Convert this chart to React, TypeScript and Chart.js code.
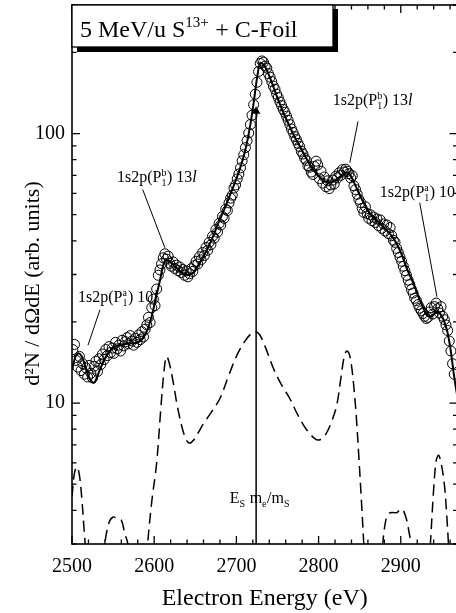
import React, { useEffect, useRef } from "react";
import { Chart, registerables } from "chart.js";

Chart.register(...registerables);

const SERIF = '"Liberation Serif", "Times New Roman", serif';

// ---- axes ----
const xRange = [2500, 2969];
const yRange = [3, 300];
const xLabeledTicks = [2500, 2600, 2700, 2800, 2900];
const xMinorStep = 20;
const yLabeledTicks = [10, 100];
const yMinorTicks = [3, 4, 5, 6, 7, 8, 9, 10, 20, 30, 40, 50, 60, 70, 80, 90, 100, 200, 300];
const yTitle = "d²N / dΩdE (arb. units)";
const xTitle = "Electron Energy (eV)";

// ---- measured spectrum (open circles) ----
const dataEnergy = [
  2501, 2503, 2505, 2507, 2509, 2511, 2513, 2515, 2517, 2519,
  2521, 2523, 2525, 2527, 2529, 2531, 2533, 2535, 2537, 2539,
  2541, 2543, 2545, 2547, 2549, 2551, 2553, 2555, 2557, 2559,
  2561, 2563, 2565, 2567, 2569, 2571, 2573, 2575, 2577, 2579,
  2581, 2583, 2585, 2587, 2589, 2591, 2593, 2595, 2597, 2599,
  2601, 2603, 2605, 2607, 2609, 2611, 2613, 2615, 2617, 2619,
  2621, 2623, 2625, 2627, 2629, 2631, 2633, 2635, 2637, 2639,
  2641, 2643, 2645, 2647, 2649, 2651, 2653, 2655, 2657, 2659,
  2661, 2663, 2665, 2667, 2669, 2671, 2673, 2675, 2677, 2679,
  2681, 2683, 2685, 2687, 2689, 2691, 2693, 2695, 2697, 2699,
  2701, 2703, 2705, 2707, 2709, 2711, 2713, 2715, 2717, 2719,
  2721, 2723, 2725, 2727, 2729, 2731, 2733, 2735, 2737, 2739,
  2741, 2743, 2745, 2747, 2749, 2751, 2753, 2755, 2757, 2759,
  2761, 2763, 2765, 2767, 2769, 2771, 2773, 2775, 2777, 2779,
  2781, 2783, 2785, 2787, 2789, 2791, 2793, 2795, 2797, 2799,
  2801, 2803, 2805, 2807, 2809, 2811, 2813, 2815, 2817, 2819,
  2821, 2823, 2825, 2827, 2829, 2831, 2833, 2835, 2837, 2839,
  2841, 2843, 2845, 2847, 2849, 2851, 2853, 2855, 2857, 2859,
  2861, 2863, 2865, 2867, 2869, 2871, 2873, 2875, 2877, 2879,
  2881, 2883, 2885, 2887, 2889, 2891, 2893, 2895, 2897, 2899,
  2901, 2903, 2905, 2907, 2909, 2911, 2913, 2915, 2917, 2919,
  2921, 2923, 2925, 2927, 2929, 2931, 2933, 2935, 2937, 2939,
  2941, 2943, 2945, 2947, 2949, 2951, 2953, 2955, 2957, 2959,
  2961, 2963, 2965,
];
const dataCounts = [
  15.8, 16.5, 14.4, 13.6, 14.9, 13.2, 14.0, 12.8, 13.5, 12.5,
  13.8, 12.9, 12.4, 13.7, 14.3, 13.1, 14.6, 13.9, 15.2, 14.5,
  15.8, 15.0, 16.2, 15.4, 16.0, 15.3, 16.8, 15.9, 16.4, 15.6,
  17.1, 16.3, 16.9, 17.5, 16.6, 17.8, 17.0, 16.4, 17.4, 16.8,
  17.9, 17.2, 18.4, 17.6, 18.8, 19.5, 20.8, 19.9, 22.6, 24.3,
  23.0, 26.5, 29.8, 31.2, 32.9, 34.6, 35.8, 34.2, 35.1, 33.0,
  32.2, 33.4, 31.6, 32.5, 31.0, 32.0, 30.5, 31.3, 29.8, 30.9,
  29.4, 30.2, 31.5, 30.8, 32.4, 33.6, 32.8, 34.9, 34.0, 36.2,
  35.3, 37.8, 36.9, 39.5, 38.7, 41.6, 40.9, 44.0, 43.1, 46.4,
  45.8, 49.2, 48.5, 52.4, 51.8, 55.3, 57.6, 59.1, 62.8, 64.5,
  67.9, 70.8, 74.6, 79.2, 83.5, 88.7, 94.1, 100.5, 108, 117,
  128, 140, 155, 170, 182, 186, 184, 178, 175, 167,
  162, 156, 150, 146, 140, 136, 131, 127, 123, 120,
  116, 112, 108, 104, 101, 97.5, 95, 92, 89.5, 86,
  84, 81, 79.5, 76, 75, 72, 70.5, 75.5, 79, 76.5,
  68, 72.5, 65.5, 69, 63.5, 66.8, 62.5, 64.5, 67.2, 65,
  69.5, 68.5, 71.5, 70, 73.5, 72, 73.8, 72.5, 71, 68.5,
  69.8, 64, 62, 59.5, 57, 55.5, 52.8, 51, 53.5, 50.5,
  48.5, 50, 47.5, 49, 46.8, 48.2, 45.5, 47.8, 44.5, 46.2,
  43.5, 45.8, 42.5, 44.8, 41.8, 40.2, 39.5, 37.5, 36.2, 34.8,
  33.6, 32.2, 31.0, 29.8, 28.6, 27.5, 26.4, 25.6, 24.5, 24.0,
  23.2, 22.5, 22.0, 21.5, 21.0, 20.6, 20.8, 21.8, 22.6, 21.4,
  22.8, 23.5, 22.4, 21.6, 22.8, 21.0, 20.4, 19.5, 18.6, 17.0,
  15.6, 14.0, 12.8,
];

// ---- fit (solid line) ----
const fitEnergy = [
  2500, 2504, 2508, 2512, 2516, 2520, 2524, 2527, 2530, 2534,
  2540, 2546, 2552, 2560, 2568, 2576, 2582, 2587, 2592, 2597,
  2602, 2607, 2611, 2614, 2618, 2623, 2630, 2636, 2642, 2648,
  2655, 2662, 2670, 2678, 2686, 2694, 2700, 2706, 2712, 2717,
  2721, 2725, 2729, 2733, 2737, 2742, 2749, 2757, 2765, 2771,
  2777, 2785, 2793, 2800, 2808, 2815, 2822, 2828, 2834, 2838,
  2842, 2846, 2852, 2859, 2866, 2874, 2882, 2890, 2896, 2902,
  2908, 2915, 2921, 2927, 2932, 2936, 2941, 2945, 2949, 2953,
  2957, 2961, 2965, 2969,
];
const fitCounts = [
  13.3, 14.8, 15.3, 14.9, 13.8, 12.6, 12.0, 11.9, 12.4, 13.3,
  14.6, 15.6, 16.2, 16.5, 16.6, 16.7, 16.9, 17.5, 18.8, 21.0,
  24.5, 28.5, 32.5, 34.0, 33.6, 32.6, 31.2, 30.2, 29.9, 30.6,
  33.0, 36.0, 40.5, 46.5, 53, 61, 68, 77, 90, 108,
  130, 160, 183, 180, 172, 158, 138, 120, 106, 97,
  90, 81, 74, 69.5, 66.5, 66, 67.5, 70, 71.8, 70.5,
  67, 63, 57.5, 52.5, 49, 46.5, 44, 41.3, 38.5, 35,
  31.2, 28, 25, 22.7, 21.2, 20.9, 21.5, 21.8, 21.2, 20,
  18.2, 15.5, 12.5, 10.5,
];

// ---- difference curve (dashed), null = gap below the axis ----
const diffEnergy = [
  2500, 2503, 2506, 2509, 2512, 2515, 2518, 2520, 2528,
  2536, 2540, 2545, 2550, 2555, 2560, 2564, 2568, 2571, 2580,
  2588, 2592, 2597, 2603, 2608, 2612, 2615, 2618, 2623, 2628,
  2634, 2639, 2643, 2648, 2654, 2660, 2670, 2680, 2690, 2700,
  2710, 2718, 2723, 2728, 2735, 2744, 2751, 2757, 2765, 2775,
  2785, 2795, 2801, 2808, 2815, 2822, 2827, 2831, 2834, 2837,
  2840, 2843, 2846, 2849, 2852, 2855, 2857, 2866,
  2875, 2878, 2882, 2886, 2890, 2895, 2900, 2903, 2907, 2911,
  2913, 2915, 2924,
  2933, 2936, 2940, 2943, 2946, 2949, 2953, 2956, 2958, 2960,
];
const diffCounts = [
  4.5, 5.5, 5.8, 5.4, 4.4, 3.3, 2.5, 2.0, null,
  2.0, 3.0, 3.6, 3.78, 3.72, 3.68, 3.3, 3.0, 2.4, null,
  2.0, 3.0, 4.3, 6.0, 9.5, 13.2, 14.9, 14.2, 12.0, 9.8,
  8.1, 7.3, 7.1, 7.3, 7.8, 8.4, 9.3, 10.4, 12.5, 14.9,
  16.9, 18.1, 18.4, 18.0, 16.2, 13.7, 12.3, 11.4, 10.4, 9.0,
  8.0, 7.4, 7.3, 7.6, 8.4, 9.8, 12.3, 14.8, 15.6, 15.3,
  13.8, 11.4, 8.8, 6.3, 4.4, 3.0, 2.4, null,
  2.2, 3.0, 3.7, 3.9, 3.93, 3.92, 4.05, 4.0, 3.7, 3.2,
  3.0, 2.4, null,
  2.2, 3.0, 4.8, 6.1, 6.4, 6.0, 5.0, 3.8, 3.0, 2.3,
];

// ---- E_S m_e / m_S marker ----
const markerEnergy = 2724;
const markerSpan = [3, 121];

// ---- annotations (anchored in data coordinates) ----
type Part = { t?: string; sub?: string; sup?: string; it?: boolean };
const lblP1a10l: Part[] = [{ t: "1s2p(P" }, { sub: "1", sup: "a" }, { t: ") 10" }, { t: "l", it: true }];
const lblP1b13l: Part[] = [{ t: "1s2p(P" }, { sub: "1", sup: "b" }, { t: ") 13" }, { t: "l", it: true }];
const lblMarker: Part[] = [{ t: "E" }, { sub: "S" }, { t: " m" }, { sub: "e" }, { t: "/m" }, { sub: "S" }];
const titleParts: Part[] = [{ t: "5 MeV/u S" }, { sup: "13+" }, { t: " + C-Foil" }];

const annotations = [
  { parts: lblP1a10l, at: [2507.3, 24.8], line: [[2534, 22.2], [2519.5, 16.4]] },
  { parts: lblP1b13l, at: [2554.7, 69.2], line: [[2586, 62], [2613, 37.7]] },
  { parts: lblP1b13l, at: [2817.3, 133.6], line: [[2848, 110.9], [2838, 78]] },
  { parts: lblP1a10l, at: [2874.5, 60.8], line: [[2923, 55.4], [2944, 24.8]] },
  { parts: lblMarker, at: [2692, 4.47], line: null as null | number[][] },
];

function drawRich(ctx: CanvasRenderingContext2D, x: number, baseline: number, parts: Part[], size: number) {
  let cx = x;
  const small = Math.round(size * 0.62);
  for (const p of parts) {
    if (p.t !== undefined) {
      ctx.font = `${p.it ? "italic " : ""}${size}px ${SERIF}`;
      ctx.fillText(p.t, cx, baseline);
      cx += ctx.measureText(p.t).width;
    } else {
      ctx.font = `${small}px ${SERIF}`;
      let w = 0;
      if (p.sub) {
        ctx.fillText(p.sub, cx, baseline + size * 0.25);
        w = Math.max(w, ctx.measureText(p.sub).width);
      }
      if (p.sup) {
        ctx.fillText(p.sup, cx, baseline - size * 0.4);
        w = Math.max(w, ctx.measureText(p.sup).width);
      }
      cx += w + 0.5;
    }
  }
}

const decorPlugin = {
  id: "decor",
  afterDraw(chart: any) {
    const { ctx, chartArea, scales } = chart;
    const { left, right, top, bottom } = chartArea;
    const xs = scales.x;
    const ys = scales.y;
    ctx.save();
    ctx.strokeStyle = "#000";
    ctx.fillStyle = "#000";

    // frame
    ctx.lineWidth = 1.6;
    ctx.strokeRect(left, top, right - left, bottom - top);

    // inward ticks
    ctx.lineWidth = 1.3;
    ctx.beginPath();
    for (const t of xs.ticks) {
      const px = xs.getPixelForValue(t.value);
      if (px < left - 0.5 || px > right + 0.5) continue;
      const len = xLabeledTicks.includes(t.value) ? 8 : 4.5;
      ctx.moveTo(px, bottom);
      ctx.lineTo(px, bottom - len);
      ctx.moveTo(px, top);
      ctx.lineTo(px, top + len);
    }
    for (const t of ys.ticks) {
      const py = ys.getPixelForValue(t.value);
      if (py < top - 0.5 || py > bottom + 0.5) continue;
      const len = yLabeledTicks.includes(t.value) ? 8 : 4.5;
      ctx.moveTo(left, py);
      ctx.lineTo(left + len, py);
      ctx.moveTo(right, py);
      ctx.lineTo(right - len, py);
    }
    ctx.stroke();

    // y axis title (rotated)
    ctx.save();
    ctx.translate(left - 39, (top + bottom) / 2 + 9);
    ctx.rotate(-Math.PI / 2);
    ctx.textAlign = "center";
    ctx.textBaseline = "middle";
    ctx.font = `22px ${SERIF}`;
    ctx.fillText(yTitle, 0, 0);
    ctx.restore();

    // annotations
    ctx.textBaseline = "alphabetic";
    ctx.textAlign = "left";
    for (const a of annotations) {
      const ax = xs.getPixelForValue(a.at[0]);
      const ay = ys.getPixelForValue(a.at[1]);
      drawRich(ctx, ax, ay + 5.5, a.parts, 16);
      if (a.line) {
        ctx.lineWidth = 1;
        ctx.beginPath();
        ctx.moveTo(xs.getPixelForValue(a.line[0][0]), ys.getPixelForValue(a.line[0][1]));
        ctx.lineTo(xs.getPixelForValue(a.line[1][0]), ys.getPixelForValue(a.line[1][1]));
        ctx.stroke();
      }
    }

    // title box with shadow
    const bw = 261;
    const bh = 42;
    ctx.fillStyle = "#000";
    ctx.fillRect(left + 5, top + 4, bw, bh + 1);
    ctx.fillStyle = "#fff";
    ctx.fillRect(left, top, bw, bh);
    ctx.lineWidth = 1.3;
    ctx.strokeRect(left, top, bw, bh);
    ctx.fillStyle = "#000";
    drawRich(ctx, left + 8, top + 32, titleParts, 24);
    ctx.restore();
  },
};

function zeroPadding(s: any) {
  s.paddingTop = 0;
  s.paddingBottom = 0;
  s.paddingLeft = 0;
  s.paddingRight = 0;
}

export default function App() {
  const canvasRef = useRef<HTMLCanvasElement | null>(null);

  useEffect(() => {
    const canvas = canvasRef.current;
    if (!canvas) return;

    const points = dataEnergy.map((e, i) => ({ x: e, y: dataCounts[i] }));
    const fit = fitEnergy.map((e, i) => ({ x: e, y: fitCounts[i] }));
    const diff = diffEnergy.map((e, i) => ({ x: e, y: diffCounts[i] }));
    const marker = markerSpan.map((v) => ({ x: markerEnergy, y: v }));

    const chart = new Chart(canvas, {
      type: "scatter",
      data: {
        datasets: [
          {
            type: "line",
            data: diff as any,
            borderColor: "#000",
            borderWidth: 1.5,
            borderDash: [11, 6],
            pointRadius: 0,
            tension: 0.35,
            spanGaps: false,
            clip: 0,
            order: 3,
          },
          {
            type: "line",
            data: marker as any,
            borderColor: "#000",
            borderWidth: 1.5,
            pointRadius: [0, 3.5],
            pointStyle: "triangle",
            pointBackgroundColor: "#000",
            pointBorderColor: "#000",
            clip: 0,
            order: 2,
          },
          {
            type: "scatter",
            data: points as any,
            showLine: false,
            pointStyle: "circle",
            pointRadius: 5,
            pointBorderWidth: 1,
            pointBorderColor: "#000",
            pointBackgroundColor: "rgba(0,0,0,0)",
            order: 1,
          },
          {
            type: "line",
            data: fit as any,
            borderColor: "#000",
            borderWidth: 2,
            pointRadius: 0,
            cubicInterpolationMode: "monotone",
            clip: 0,
            order: 0,
          },
        ],
      },
      options: {
        responsive: false,
        animation: false,
        devicePixelRatio: 1,
        layout: { autoPadding: false, padding: { top: 5, right: 2.5, left: 0, bottom: 0 } },
        plugins: {
          legend: { display: false },
          tooltip: { enabled: false },
        },
        scales: {
          x: {
            type: "linear",
            min: xRange[0],
            max: xRange[1],
            grid: { display: false, drawTicks: false },
            border: { display: false },
            afterBuildTicks: (s: any) => {
              const t: any[] = [];
              for (let v = xRange[0]; v <= xRange[1]; v += xMinorStep) t.push({ value: v });
              s.ticks = t;
            },
            afterFit: (s: any) => {
              s.height = 69;
              zeroPadding(s);
            },
            ticks: {
              autoSkip: false,
              maxRotation: 0,
              padding: 11,
              color: "#000",
              font: { family: SERIF, size: 20 },
              callback: (v: any) => (xLabeledTicks.includes(Number(v)) ? String(v) : ""),
            },
            title: {
              display: true,
              text: xTitle,
              color: "#000",
              font: { family: SERIF, size: 24 },
              padding: { top: 0, bottom: 0 },
            },
          },
          y: {
            type: "logarithmic",
            min: yRange[0],
            max: yRange[1],
            grid: { display: false, drawTicks: false },
            border: { display: false },
            afterBuildTicks: (s: any) => {
              s.ticks = yMinorTicks.map((v) => ({ value: v }));
            },
            afterFit: (s: any) => {
              s.width = 72;
              zeroPadding(s);
            },
            ticks: {
              autoSkip: false,
              padding: 7,
              color: "#000",
              font: { family: SERIF, size: 20 },
              callback: (v: any) => (yLabeledTicks.includes(Number(v)) ? String(v) : ""),
            },
            title: { display: false },
          },
        },
      },
      plugins: [decorPlugin],
    } as any);

    return () => chart.destroy();
  }, []);

  return (
    <div
      style={{
        position: "fixed",
        left: 0,
        top: 0,
        width: 456,
        height: 613,
        overflow: "hidden",
        background: "#fff",
      }}
    >
      <canvas ref={canvasRef} width={460} height={613} style={{ display: "block", width: 460, height: 613 }} />
    </div>
  );
}
